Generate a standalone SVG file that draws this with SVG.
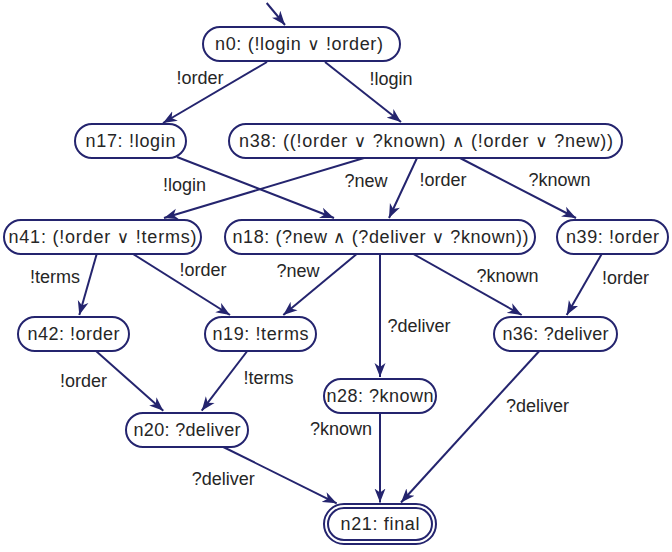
<svg xmlns="http://www.w3.org/2000/svg" width="672" height="552" viewBox="0 0 672 552">
<style>
.node rect{fill:#fff;stroke:#24246e;stroke-width:2}
text{font-family:"Liberation Sans","DejaVu Sans",sans-serif;font-size:18px;fill:#262626}
.op{font-family:"DejaVu Sans",sans-serif;font-size:17px}
.node text{text-anchor:middle}
.lbl{text-anchor:middle}
.edges line{stroke:#24246e;stroke-width:2;marker-end:url(#arr)}
</style>
<defs>
<marker id="arr" markerUnits="userSpaceOnUse" markerWidth="15" markerHeight="12" refX="14" refY="6" orient="auto">
<path d="M0,0.5 L14,6 L0,11.5 L4,6 z" fill="#24246e"/>
</marker>
</defs>
<rect width="672" height="552" fill="#fff"/>
<g class="edges" id="edges">
<line x1="266.7" y1="3" x2="285" y2="25"/>
<line x1="267" y1="62" x2="163" y2="123"/>
<line x1="325" y1="62" x2="401" y2="122"/>
<line x1="177" y1="157" x2="334" y2="218"/>
<line x1="364" y1="158" x2="164" y2="218"/>
<line x1="417" y1="158" x2="389" y2="218"/>
<line x1="460" y1="158" x2="576" y2="218"/>
<line x1="96.7" y1="254" x2="79.3" y2="315"/>
<line x1="133" y1="254" x2="230" y2="315"/>
<line x1="356.7" y1="254" x2="283.3" y2="315"/>
<line x1="380" y1="254" x2="380" y2="377"/>
<line x1="413.3" y1="254" x2="521.7" y2="315"/>
<line x1="601.7" y1="254" x2="566.7" y2="315"/>
<line x1="96" y1="351" x2="163.3" y2="410.7"/>
<line x1="247.3" y1="351" x2="201.7" y2="410.7"/>
<line x1="223.3" y1="447" x2="336.7" y2="503.3"/>
<line x1="380" y1="413" x2="380" y2="502.5"/>
<line x1="539.3" y1="351" x2="401" y2="502.5"/>
<text class="lbl" x="200" y="84">!order</text>
<text class="lbl" x="391" y="85">!login</text>
<text class="lbl" x="184.5" y="191">!login</text>
<text class="lbl" x="366" y="187">?new</text>
<text class="lbl" x="443" y="186">!order</text>
<text class="lbl" x="559.5" y="186">?known</text>
<text class="lbl" x="55" y="283">!terms</text>
<text class="lbl" x="203" y="276">!order</text>
<text class="lbl" x="298" y="277">?new</text>
<text class="lbl" x="419" y="332">?deliver</text>
<text class="lbl" x="507.5" y="282">?known</text>
<text class="lbl" x="625.5" y="284">!order</text>
<text class="lbl" x="83.5" y="387">!order</text>
<text class="lbl" x="268.5" y="384">!terms</text>
<text class="lbl" x="341" y="435">?known</text>
<text class="lbl" x="537.5" y="412">?deliver</text>
<text class="lbl" x="223.3" y="485">?deliver</text>
</g>
<g class="node" id="n0"><rect x="203" y="27" width="197" height="34" rx="17"/><text x="299" y="50" textLength="168">n0: (!login <tspan class="op">∨</tspan> !order)</text></g>
<g class="node" id="n17"><rect x="75" y="124" width="111" height="34" rx="17"/><text x="130.5" y="147" textLength="90">n17: !login</text></g>
<g class="node" id="n38"><rect x="229" y="124" width="393" height="34" rx="17"/><text x="426" y="147" textLength="374">n38: ((!order <tspan class="op">∨</tspan> ?known) <tspan class="op">∧</tspan> (!order <tspan class="op">∨</tspan> ?new))</text></g>
<g class="node" id="n41"><rect x="4" y="220" width="197" height="34" rx="17"/><text x="102.5" y="243" textLength="188">n41: (!order <tspan class="op">∨</tspan> !terms)</text></g>
<g class="node" id="n18"><rect x="225" y="220" width="310" height="34" rx="17"/><text x="380.5" y="243" textLength="296">n18: (?new <tspan class="op">∧</tspan> (?deliver <tspan class="op">∨</tspan> ?known))</text></g>
<g class="node" id="n39"><rect x="557" y="220" width="111" height="34" rx="17"/><text x="612.5" y="243" textLength="93">n39: !order</text></g>
<g class="node" id="n42"><rect x="18" y="317" width="111" height="34" rx="17"/><text x="73.5" y="340" textLength="92">n42: !order</text></g>
<g class="node" id="n19"><rect x="205" y="317" width="111" height="34" rx="17"/><text x="260.5" y="340" textLength="96">n19: !terms</text></g>
<g class="node" id="n36"><rect x="494" y="317" width="123" height="34" rx="17"/><text x="555.5" y="340" textLength="106">n36: ?deliver</text></g>
<g class="node" id="n28"><rect x="324" y="379" width="112" height="34" rx="17"/><text x="380" y="402" textLength="107">n28: ?known</text></g>
<g class="node" id="n20"><rect x="126" y="413" width="122" height="34" rx="17"/><text x="187" y="436" textLength="107">n20: ?deliver</text></g>
<g class="node" id="n21"><rect x="324" y="504" width="112" height="40" rx="20"/><rect x="328" y="508" width="104" height="32" rx="16"/><text x="380" y="530" textLength="79">n21: final</text></g>
</svg>
